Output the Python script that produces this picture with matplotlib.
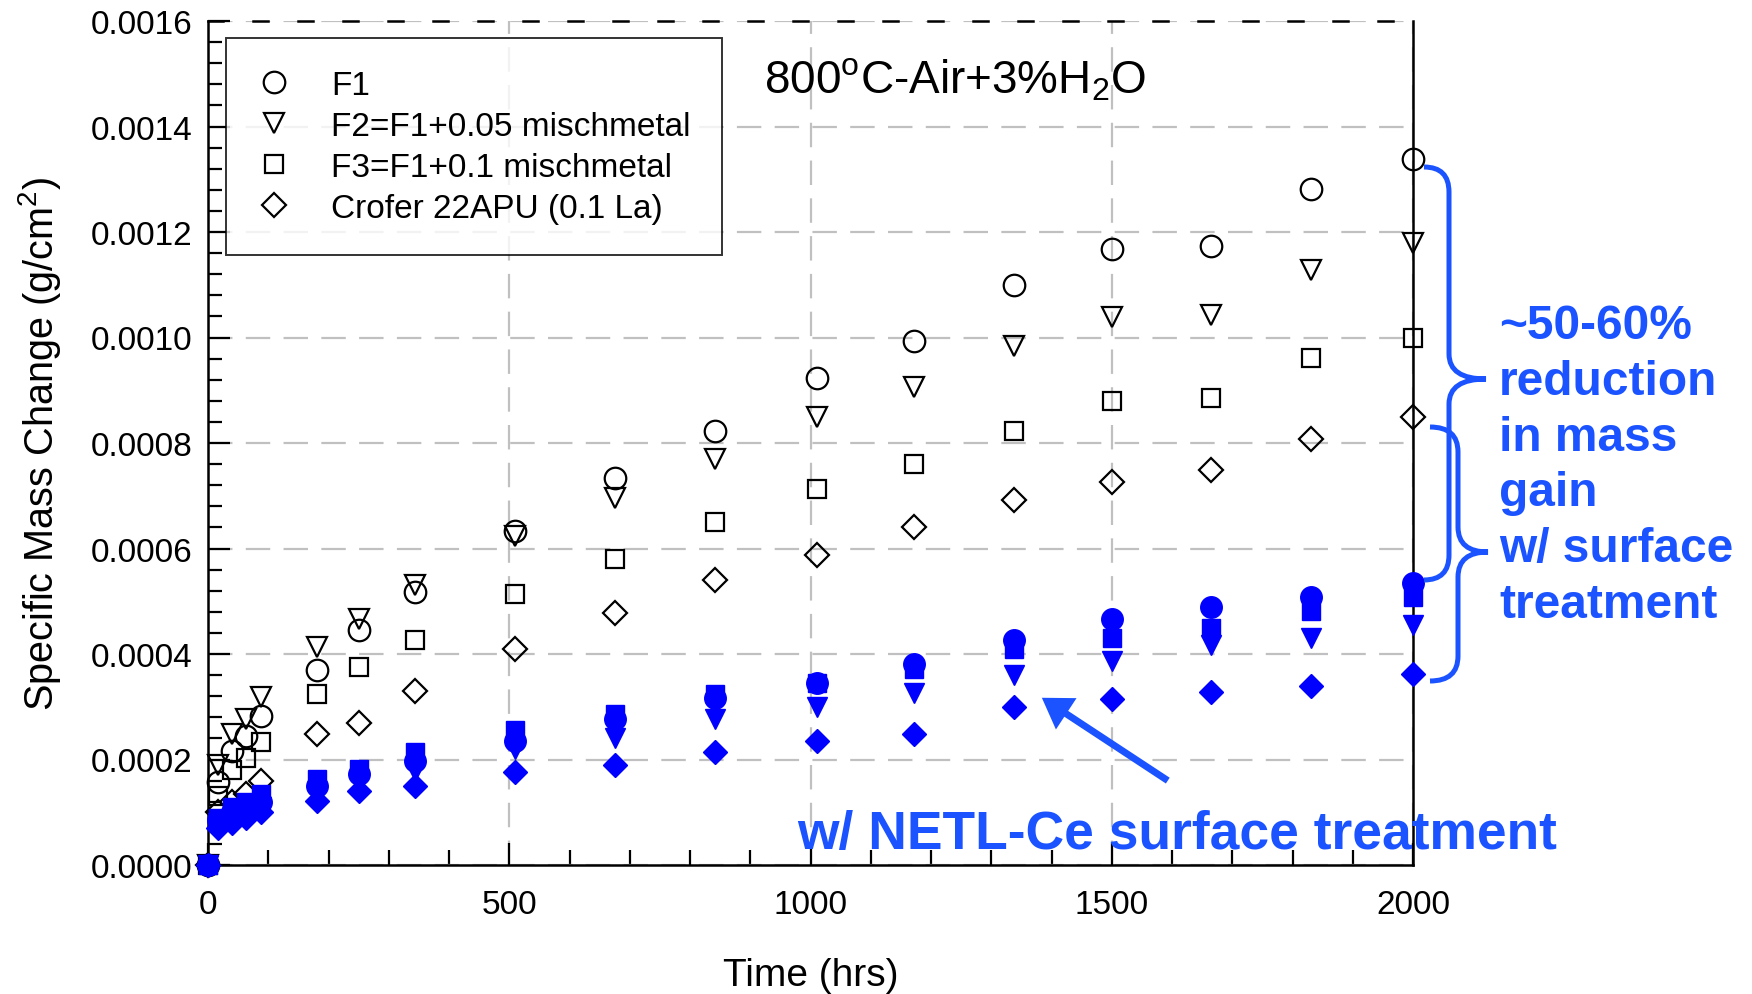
import matplotlib
matplotlib.use('Agg')
import matplotlib.pyplot as plt
from matplotlib.path import Path
from matplotlib.patches import PathPatch
from matplotlib.ticker import MultipleLocator, FormatStrFormatter

plt.rcParams['font.family'] = ['Liberation Sans', 'DejaVu Sans']
plt.rcParams['mathtext.fontset'] = 'custom'
plt.rcParams['mathtext.rm'] = 'Liberation Sans'
plt.rcParams['mathtext.it'] = 'Liberation Sans:italic'
plt.rcParams['mathtext.bf'] = 'Liberation Sans:bold'
plt.rcParams['mathtext.default'] = 'rm'

# exposure time (hrs)
time = [0, 17, 40, 63, 88, 181, 251, 344, 509, 675, 841, 1010, 1172, 1338, 1500, 1665, 1831, 2000]

# untreated alloys (open symbols)
f1 = [0, 0.000157, 0.000217, 0.000245, 0.000283, 0.00037, 0.000446, 0.000517, 0.000634, 0.000733,
      0.000823, 0.000924, 0.000993, 0.0011, 0.001168, 0.001174, 0.001282, 0.001339]
f2 = [0, 0.00019, 0.000248, 0.000277, 0.000318, 0.000413, 0.000466, 0.00053, 0.000624, 0.000695,
      0.00077, 0.00085, 0.000906, 0.000983, 0.001038, 0.001042, 0.001128, 0.00118]
f3 = [0, 0.000131, 0.00018, 0.000202, 0.000233, 0.000324, 0.000375, 0.000427, 0.000514, 0.000581,
      0.000651, 0.000712, 0.00076, 0.000823, 0.000879, 0.000885, 0.000961, 0.000999]
crofer = [0, 0.0001, 0.00012, 0.000135, 0.00016, 0.000248, 0.000269, 0.000329, 0.000409, 0.000477,
          0.000541, 0.000588, 0.000641, 0.000692, 0.000727, 0.000748, 0.000808, 0.000849]

# NETL-Ce surface treated (filled blue symbols)
f1_ce = [0, 0.000085, 0.0001, 0.00011, 0.00012, 0.00015, 0.000172, 0.000198, 0.000236, 0.000276,
         0.000316, 0.000345, 0.000381, 0.000427, 0.000467, 0.000489, 0.000508, 0.000534]
f2_ce = [0, 0.00008, 0.00009, 0.0001, 0.00011, 0.000138, 0.000157, 0.000179, 0.00022, 0.00024,
         0.000277, 0.000299, 0.000327, 0.00036, 0.000386, 0.000418, 0.000431, 0.000455]
f3_ce = [0, 0.00009, 0.00011, 0.00012, 0.000135, 0.000163, 0.000182, 0.000214, 0.000255, 0.000286,
         0.000324, 0.000345, 0.000372, 0.00041, 0.000431, 0.00045, 0.000482, 0.000508]
crofer_ce = [0, 0.00007, 0.00008, 0.00009, 0.0001, 0.000122, 0.000141, 0.00015, 0.000176, 0.00019,
             0.000214, 0.000236, 0.000248, 0.0003, 0.000315, 0.000328, 0.000339, 0.000362]

labels = ['F1', 'F2=F1+0.05 mischmetal', 'F3=F1+0.1 mischmetal', 'Crofer 22APU (0.1 La)']
markers = ['o', 'v', 's', 'D']
sizes = [15.5, 15, 13, 12.5]

W, H = 1752, 995
fig = plt.figure(figsize=(W / 100, H / 100), dpi=100)
ax = fig.add_axes([208 / W, 1 - 866 / H, (1413 - 208) / W, (866 - 22) / H])

blue = '#0000FF'
note = '#1A53FF'

for ys, m, ms, lab in zip([f1, f2, f3, crofer], markers, sizes, labels):
    ax.plot(time, ys, linestyle='none', marker=m, ms=ms, mfc='none', mec='black',
            mew=1.6, label=lab, clip_on=False, zorder=3)
for ys, m, ms in zip([f1_ce, f2_ce, f3_ce, crofer_ce], markers, sizes):
    ax.plot(time, ys, linestyle='none', marker=m, ms=ms, mfc=blue, mec=blue,
            mew=1.0, clip_on=False, zorder=4)

ax.set_xlim(0, 2000)
ax.set_ylim(0, 0.0016)
ax.xaxis.set_major_locator(MultipleLocator(500))
ax.xaxis.set_minor_locator(MultipleLocator(100))
ax.yaxis.set_major_locator(MultipleLocator(0.0002))
ax.yaxis.set_minor_locator(MultipleLocator(0.00004))
ax.yaxis.set_major_formatter(FormatStrFormatter('%.4f'))
ax.tick_params(which='both', direction='in', width=1.6, labelsize=24)
ax.tick_params(axis='x', which='major', length=16, pad=17)
ax.tick_params(axis='x', which='minor', length=11)
ax.tick_params(axis='y', which='major', length=16, pad=11)
ax.tick_params(axis='y', which='minor', length=10)

ax.grid(True, which='major', color='#C0C0C0', lw=1.6, linestyle=(0, (11, 6)))
ax.set_axisbelow(True)
for side in ['left', 'bottom', 'right']:
    ax.spines[side].set_linewidth(1.8)
ax.spines['top'].set_linewidth(1.8)
ax.spines['top'].set_linestyle((0, (6, 12)))

ax.set_xlabel('Time (hrs)', fontsize=28, labelpad=27)
ax.set_ylabel('Specific Mass Change (g/cm$^2$)', fontsize=28.5, labelpad=20)

leg = ax.legend(loc='upper left', bbox_to_anchor=(0.015, 0.98), borderaxespad=0,
                fontsize=24, frameon=True, fancybox=False, edgecolor='black',
                handlelength=1.0, handletextpad=1.2, borderpad=0.95, labelspacing=0.3,
                markerscale=1.0)
leg.get_frame().set_linewidth(1.4)
leg.set_zorder(5)

ax.text(1240, 0.00149, r'800$^{\mathrm{o}}$C-Air+3%H$_2$O', fontsize=33,
        ha='center', va='center')

ax.text(978, 0.0000588, 'w/ NETL-Ce surface treatment', fontsize=38.4, fontweight='bold',
        color=note, ha='left', va='center', zorder=6)

ax.annotate('', xy=(1384, 0.000317), xytext=(1593, 0.00016),
            arrowprops=dict(arrowstyle='simple,head_length=21,head_width=27,tail_width=5',
                            mutation_scale=1, color=note, lw=0, shrinkA=0, shrinkB=0))

fig.text(1499 / W, 1 - 466 / H, '~50-60%\nreduction\nin mass\ngain\nw/ surface\ntreatment',
         fontsize=34.5, fontweight='bold', color=note, ha='left', va='center', linespacing=1.31)


def brace(x_end, x_mid, x_tip, y_top, y_tip, y_bot, r=25):
    # curly brace in figure pixels (y measured from top)
    pts = [(x_end, y_top), (x_mid, y_top), (x_mid, y_top + r),
           (x_mid, y_tip - r), (x_mid, y_tip), (x_tip, y_tip),
           (x_mid, y_tip), (x_mid, y_tip + r),
           (x_mid, y_bot - r), (x_mid, y_bot), (x_end, y_bot)]
    codes = [Path.MOVETO, Path.CURVE3, Path.CURVE3,
             Path.LINETO, Path.CURVE3, Path.CURVE3,
             Path.CURVE3, Path.CURVE3,
             Path.LINETO, Path.CURVE3, Path.CURVE3]
    verts = [(x / W, 1 - y / H) for x, y in pts]
    fig.patches.append(PathPatch(Path(verts, codes), transform=fig.transFigure,
                                 fill=False, edgecolor=note, lw=3.6))


brace(1424, 1449, 1486, 168, 380, 581)
brace(1430, 1458, 1488, 428, 553, 682)

fig.savefig('out.png', dpi=100)
